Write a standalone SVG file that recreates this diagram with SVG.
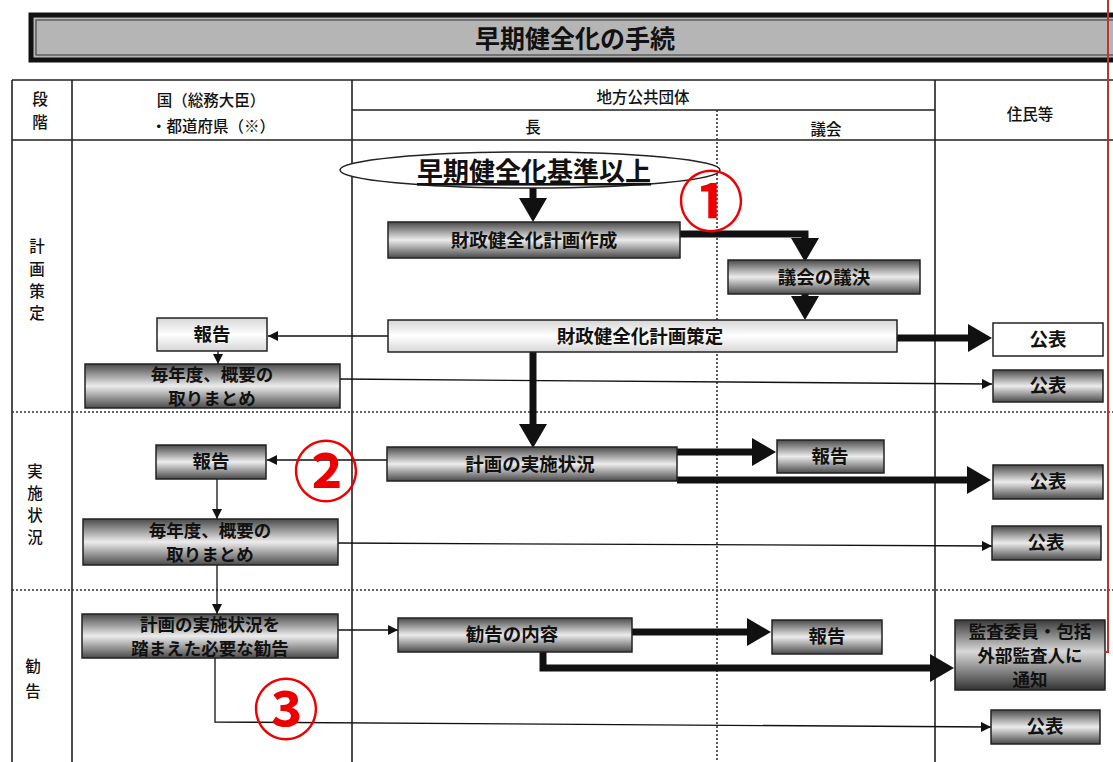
<svg xmlns="http://www.w3.org/2000/svg" width="1113" height="762" viewBox="0 0 1113 762">
<defs>
<linearGradient id="gDark" x1="0" y1="0" x2="0" y2="1">
<stop offset="0" stop-color="#4a4a4a"/><stop offset="0.5" stop-color="#ececec"/><stop offset="1" stop-color="#4a4a4a"/>
</linearGradient>
<linearGradient id="gDarker" x1="0" y1="0" x2="0" y2="1">
<stop offset="0" stop-color="#3a3a3a"/><stop offset="0.45" stop-color="#d8d8d8"/><stop offset="1" stop-color="#333"/>
</linearGradient>
<linearGradient id="gLight" x1="0" y1="0" x2="0" y2="1">
<stop offset="0" stop-color="#d6d6d6"/><stop offset="0.5" stop-color="#ffffff"/><stop offset="1" stop-color="#d6d6d6"/>
</linearGradient>
<marker id="ah" markerWidth="10" markerHeight="10" refX="10" refY="5" orient="auto" markerUnits="userSpaceOnUse"><path d="M0,0 L10,5 L0,10z" fill="#111"/></marker>
<marker id="AH" markerWidth="26" markerHeight="28" refX="10" refY="14" orient="auto" markerUnits="userSpaceOnUse"><path d="M0,0 L24,14 L0,28z" fill="#111"/></marker>
</defs>
<style>
text{font-family:"Noto Sans CJK JP","Liberation Sans",sans-serif;fill:#111;}
.hd{font-size:15.5px;font-weight:500;}
.bx{font-size:18.5px;font-weight:bold;text-anchor:middle;}
.bx2{font-size:17.5px;font-weight:bold;text-anchor:middle;}
.grid{stroke:#222;stroke-width:1.6;fill:none;}
.dot{stroke:#333;stroke-width:1.6;stroke-dasharray:2 2;fill:none;}
.thin{stroke:#111;stroke-width:1.3;fill:none;marker-end:url(#ah);}
.thick{stroke:#111;stroke-width:7;fill:none;marker-end:url(#AH);}
.dk{fill:url(#gDark);stroke:#222;stroke-width:1.5;}
.lt{fill:url(#gLight);stroke:#222;stroke-width:1.5;}
.num{font-size:66px;font-weight:bold;fill:#e00;text-anchor:middle;}
</style>
<rect width="1113" height="762" fill="#fff"/>
<g id="title">
<rect x="31" y="15" width="1090" height="45" fill="#b5b5b5" stroke="#111" stroke-width="5"/>
<rect x="36" y="20" width="1080" height="35" fill="none" stroke="#333" stroke-width="1"/>
<text x="575" y="48" font-size="25" font-weight="bold" text-anchor="middle">早期健全化の手続</text>
</g>
<g id="table">
<path class="grid" d="M12,80 H1113 M12,80 V762 M72,80 V762 M352,80 V762 M935,80 V762 M352,110 H935 M12,140 H1113"/>
<path class="dot" d="M717,110 V762 M12,412 H1113 M12,590 H1113"/>
<text class="hd" x="40" y="105" text-anchor="middle">段</text>
<text class="hd" x="40" y="128" text-anchor="middle">階</text>
<text class="hd" x="211" y="106" text-anchor="middle">国（総務大臣）</text>
<text class="hd" x="213" y="132" text-anchor="middle">・都道府県（※）</text>
<text class="hd" x="643" y="103" text-anchor="middle">地方公共団体</text>
<text class="hd" x="533" y="133" text-anchor="middle">長</text>
<text class="hd" x="826" y="135" text-anchor="middle">議会</text>
<text class="hd" x="1030" y="120" text-anchor="middle">住民等</text>
<text class="hd" x="37" y="252" text-anchor="middle">計</text>
<text class="hd" x="37" y="275" text-anchor="middle">画</text>
<text class="hd" x="37" y="297" text-anchor="middle">策</text>
<text class="hd" x="37" y="319" text-anchor="middle">定</text>
<text class="hd" x="35" y="477" text-anchor="middle">実</text>
<text class="hd" x="35" y="499" text-anchor="middle">施</text>
<text class="hd" x="35" y="521" text-anchor="middle">状</text>
<text class="hd" x="35" y="543" text-anchor="middle">況</text>
<text class="hd" x="33" y="672" text-anchor="middle">勧</text>
<text class="hd" x="33" y="697" text-anchor="middle">告</text>
</g>
<g id="connectors">
<path class="thick" d="M533,188 V208"/>
<path class="thick" d="M680,234 H805 V248"/>
<path class="thick" d="M805,294 V306"/>
<path class="thick" d="M897,338 H978"/>
<path class="thick" d="M533,352 V434"/>
<path class="thick" d="M677,452 H762"/>
<path class="thick" d="M677,480 H977"/>
<path class="thick" d="M632,632 H757"/>
<path class="thick" d="M543,652 V668 H940"/>
<path class="thin" d="M388,336 H268"/>
<path class="thin" d="M218,351 V364"/>
<path class="thin" d="M340,379 L992,384"/>
<path class="thin" d="M387,460 H267"/>
<path class="thin" d="M217,479 V519"/>
<path class="thin" d="M338,543 L992,546"/>
<path class="thin" d="M217,565 V614"/>
<path class="thin" d="M338,630 H398"/>
<path class="thin" d="M215,658 V722 L991,727"/>
</g>
<g id="start">
<ellipse cx="530" cy="170" rx="190" ry="18" fill="#fff" stroke="#222" stroke-width="1.5"/>
<text x="534" y="181" font-size="26" font-weight="bold" text-anchor="middle" text-decoration="underline">早期健全化基準以上</text>
</g>
<g id="plan-create"><rect class="dk" x="388" y="222" width="292" height="36"/><text class="bx" x="534" y="247">財政健全化計画作成</text></g>
<g id="council"><rect class="dk" x="728" y="260" width="192" height="34"/><text class="bx" x="824" y="284">議会の議決</text></g>
<g id="plan-final"><rect class="lt" x="388" y="320" width="509" height="32"/><text class="bx" x="640" y="343">財政健全化計画策定</text></g>
<g id="report1"><rect class="lt" x="157" y="318" width="110" height="33"/><text class="bx" x="212" y="341">報告</text></g>
<g id="summary1"><rect class="dk" x="85" y="364" width="255" height="44"/><text class="bx2" x="212" y="381">毎年度、概要の</text><text class="bx2" x="212" y="405">取りまとめ</text></g>
<g id="pub1"><rect x="993" y="323" width="110" height="33" fill="#fff" stroke="#222" stroke-width="1.5"/><text class="bx" x="1048" y="346">公表</text></g>
<g id="pub2"><rect class="dk" x="993" y="370" width="110" height="32"/><text class="bx" x="1048" y="392">公表</text></g>
<g id="impl"><rect class="dk" x="387" y="447" width="290" height="34"/><text class="bx" x="530" y="471">計画の実施状況</text></g>
<g id="report2"><rect class="dk" x="156" y="445" width="110" height="34"/><text class="bx" x="211" y="468">報告</text></g>
<g id="report3"><rect class="dk" x="777" y="440" width="107" height="33"/><text class="bx" x="830" y="463">報告</text></g>
<g id="pub3"><rect class="dk" x="993" y="465" width="110" height="34"/><text class="bx" x="1048" y="488">公表</text></g>
<g id="summary2"><rect class="dk" x="83" y="519" width="255" height="46"/><text class="bx2" x="210" y="537">毎年度、概要の</text><text class="bx2" x="210" y="561">取りまとめ</text></g>
<g id="pub4"><rect class="dk" x="992" y="526" width="109" height="34"/><text class="bx" x="1046" y="549">公表</text></g>
<g id="recommend"><rect class="dk" x="82" y="614" width="256" height="44"/><text class="bx2" x="210" y="631">計画の実施状況を</text><text class="bx2" x="210" y="655">踏まえた必要な勧告</text></g>
<g id="rec-content"><rect class="dk" x="398" y="618" width="234" height="34"/><text class="bx" x="512" y="641">勧告の内容</text></g>
<g id="report4"><rect class="dk" x="772" y="620" width="110" height="34"/><text class="bx" x="827" y="643">報告</text></g>
<g id="audit"><rect x="955" y="620" width="150" height="70" fill="url(#gDarker)" stroke="#222" stroke-width="1.5"/><text class="bx2" x="1030" y="638">監査委員・包括</text><text class="bx2" x="1030" y="662">外部監査人に</text><text class="bx2" x="1030" y="686">通知</text></g>
<g id="pub5"><rect class="dk" x="991" y="710" width="109" height="34"/><text class="bx" x="1045" y="733">公表</text></g>
<g id="marks">
<text class="num" x="711" y="226">①</text>
<text class="num" x="326" y="496">②</text>
<text class="num" x="286" y="734">③</text>
<path d="M1108,0 V652 H1104" fill="none" stroke="#b33" stroke-width="2"/>
</g>
</svg>
